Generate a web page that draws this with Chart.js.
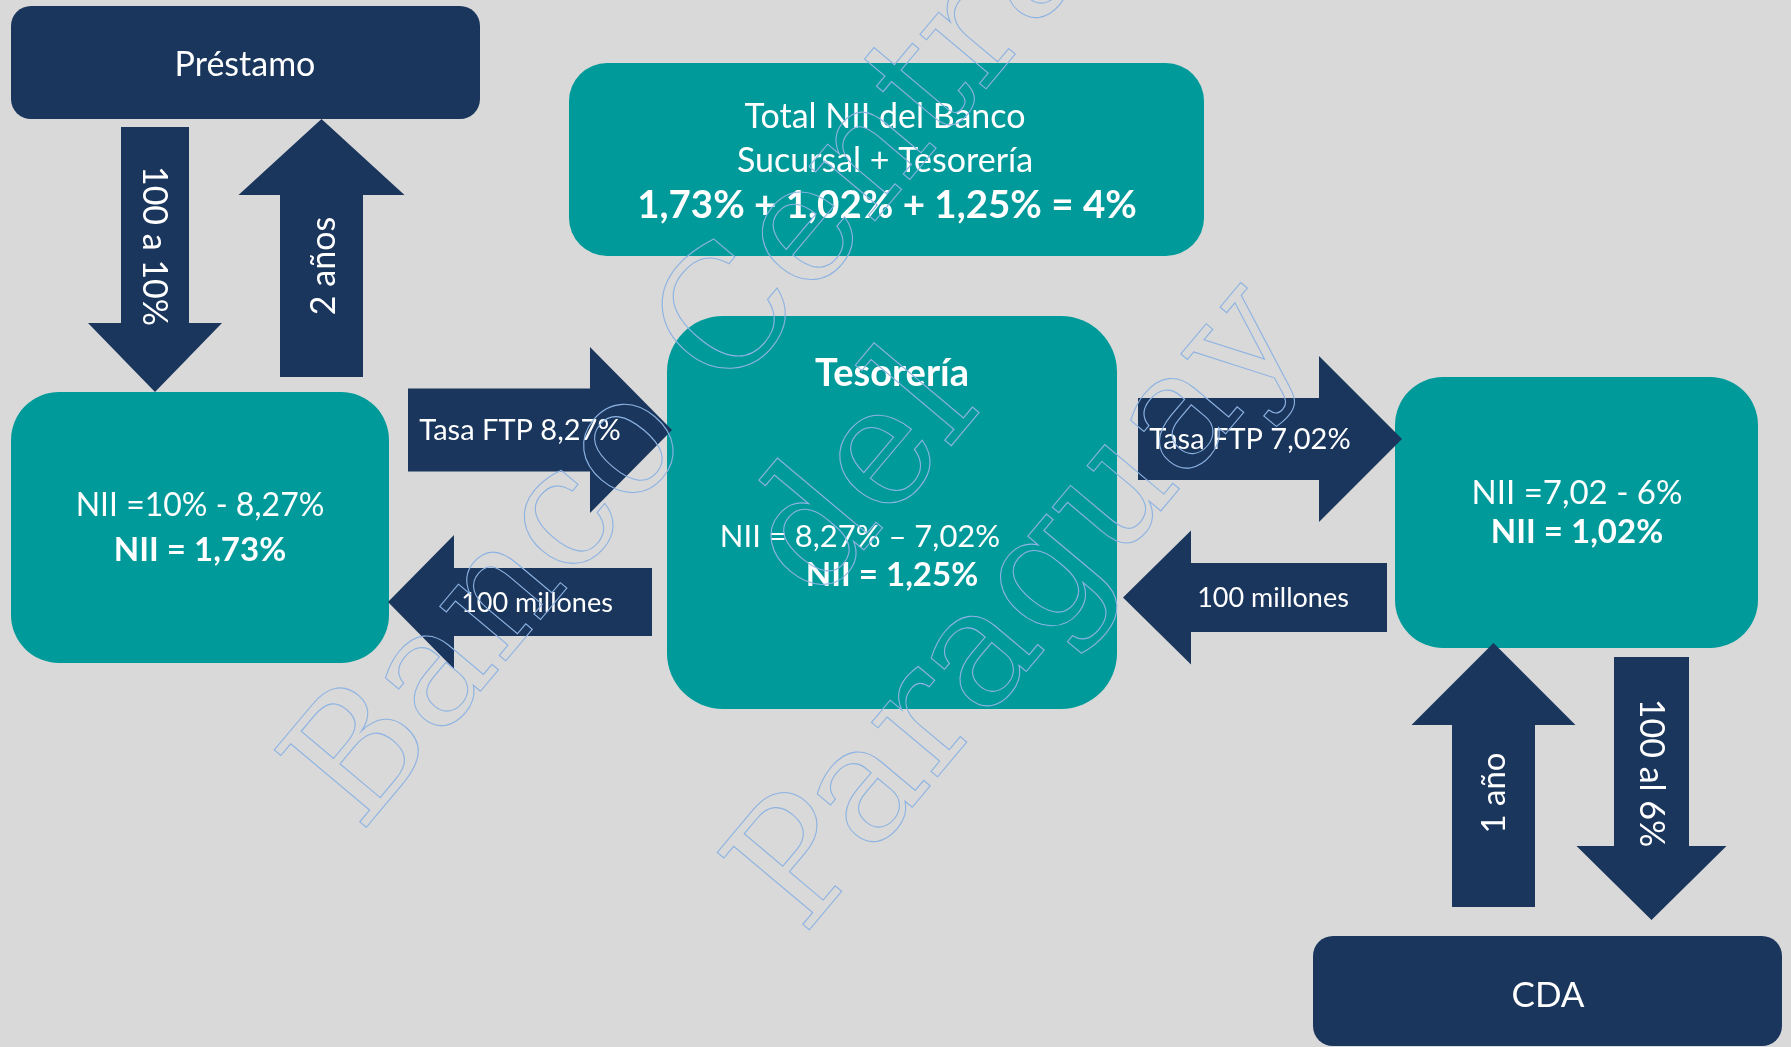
<!DOCTYPE html>
<html>
<head>
<meta charset="utf-8">
<script src="https://cdn.jsdelivr.net/npm/chart.js@4.4.0/dist/chart.umd.min.js"></script>
<style>
  html, body { margin: 0; padding: 0; background: #d9d9d9; overflow: hidden; }
  canvas { display: block; }
</style>
</head>
<body>
<canvas id="diagram" width="1791" height="1047"></canvas>
<script>
// texts of the diagram
const boxLines = [
  ['Préstamo'],
  ['Total NII del Banco', 'Sucursal + Tesorería', '1,73% + 1,02% + 1,25% = 4%'],
  ['NII =10% - 8,27%', 'NII = 1,73%'],
  ['Tesorería', 'NII = 8,27% – 7,02%', 'NII = 1,25%'],
  ['NII =7,02 - 6%', 'NII = 1,02%'],
  ['CDA']
];
const arrowLabels = ['100 a 10%', '2 años', 'Tasa FTP 8,27%', '100 millones', 'Tasa FTP 7,02%', '100 millones', '1 año', '100 al 6%'];
const watermarkLines = ['Banco Central', 'del', 'Paraguay'];

const NAVY = '#1b365d';
const TEAL = '#009a9a';
const FONT = 'Lato, "Open Sans", sans-serif';

// layout, in diagram units (x to the right, y downward)
const boxLayout = [
  { x0: 11, y0: 6, x1: 480, y1: 119, r: 20, fill: NAVY,
    text: [{ x: 245, y: 76, s: 34 }] },
  { x0: 569, y0: 63, x1: 1204, y1: 256, r: 38, fill: TEAL,
    text: [{ x: 885, y: 128, s: 34 }, { x: 885, y: 172, s: 34 }, { x: 887, y: 218, s: 38.5, b: true }] },
  { x0: 11, y0: 392, x1: 389, y1: 663, r: 48, fill: TEAL,
    text: [{ x: 200, y: 516, s: 32 }, { x: 200, y: 561, s: 33, b: true }] },
  { x0: 667, y0: 316, x1: 1117, y1: 709, r: 56, fill: TEAL,
    text: [{ x: 892, y: 386, s: 38, b: true }, { x: 860, y: 547, s: 31 }, { x: 892, y: 586, s: 33, b: true }] },
  { x0: 1395, y0: 377, x1: 1758, y1: 648, r: 48, fill: TEAL,
    text: [{ x: 1577, y: 504, s: 33 }, { x: 1577, y: 543, s: 33, b: true }] },
  { x0: 1313, y0: 936, x1: 1782, y1: 1046, r: 20, fill: NAVY,
    text: [{ x: 1548, y: 1007, s: 35 }] }
];

// arrows: axis direction, cross centre, tail / head base / tip along the axis, half widths
const arrowLayout = [
  { dir: 'v', c: 155, tail: 127, base: 323, tip: 392, sh: 34, hh: 67, lx: 155, ly: 246, s: 34, rot: 90 },
  { dir: 'v', c: 321.5, tail: 377, base: 195, tip: 119, sh: 41.5, hh: 83, lx: 323, ly: 266, s: 34, rot: -90 },
  { dir: 'h', c: 430, tail: 408, base: 590, tip: 672, sh: 41.5, hh: 83, lx: 520, ly: 440, s: 29, rot: 0 },
  { dir: 'h', c: 602, tail: 652, base: 454, tip: 388, sh: 34, hh: 67, lx: 537, ly: 612, s: 27, rot: 0 },
  { dir: 'h', c: 439, tail: 1138, base: 1319, tip: 1402, sh: 41, hh: 83, lx: 1250, ly: 449, s: 29, rot: 0 },
  { dir: 'h', c: 597.5, tail: 1387, base: 1191, tip: 1123, sh: 34.5, hh: 67, lx: 1273, ly: 607, s: 27, rot: 0 },
  { dir: 'v', c: 1493.5, tail: 907, base: 725, tip: 643, sh: 41.5, hh: 82, lx: 1493, ly: 793, s: 33, rot: -90 },
  { dir: 'v', c: 1651.5, tail: 657, base: 846, tip: 920, sh: 37.5, hh: 75, lx: 1652, ly: 773, s: 34, rot: 90 }
];

// watermark: baseline centre of each line
const watermarkLayout = [
  { x: 745, y: 376 }, { x: 900, y: 507 }, { x: 1055, y: 637 }
];

const diagramPlugin = {
  id: 'diagram',
  beforeDraw(chart) {
    const ctx = chart.ctx;
    ctx.save();
    ctx.fillStyle = '#d9d9d9';
    ctx.fillRect(0, 0, chart.width, chart.height);
    ctx.restore();
  },
  afterDatasetsDraw(chart) {
    const ctx = chart.ctx;
    const xs = chart.scales.x, ys = chart.scales.y;
    const X = v => xs.getPixelForValue(v);
    const Y = v => ys.getPixelForValue(v);
    const k = (X(1000) - X(0)) / 1000;

    ctx.save();
    // boxes
    boxLayout.forEach((b, i) => {
      ctx.fillStyle = b.fill;
      ctx.beginPath();
      ctx.roundRect(X(b.x0), Y(b.y0), X(b.x1) - X(b.x0), Y(b.y1) - Y(b.y0), b.r * k);
      ctx.fill();
      ctx.fillStyle = '#ffffff';
      ctx.textAlign = 'center';
      ctx.textBaseline = 'alphabetic';
      b.text.forEach((t, j) => {
        ctx.font = (t.b ? 'bold ' : '') + (t.s * k) + 'px ' + FONT;
        ctx.fillText(boxLines[i][j], X(t.x), Y(t.y));
      });
    });

    // arrows
    arrowLayout.forEach((a, i) => {
      const pts = [
        [a.tail, a.c - a.sh], [a.base, a.c - a.sh], [a.base, a.c - a.hh], [a.tip, a.c],
        [a.base, a.c + a.hh], [a.base, a.c + a.sh], [a.tail, a.c + a.sh]
      ];
      ctx.fillStyle = NAVY;
      ctx.beginPath();
      pts.forEach(([along, cross], n) => {
        const px = a.dir === 'h' ? X(along) : X(cross);
        const py = a.dir === 'h' ? Y(cross) : Y(along);
        if (n === 0) ctx.moveTo(px, py); else ctx.lineTo(px, py);
      });
      ctx.closePath();
      ctx.fill();

      ctx.save();
      ctx.fillStyle = '#ffffff';
      ctx.font = (a.s * k) + 'px ' + FONT;
      ctx.textAlign = 'center';
      ctx.textBaseline = 'alphabetic';
      if (a.rot) {
        ctx.translate(X(a.lx), Y(a.ly));
        ctx.rotate(a.rot * Math.PI / 180);
        ctx.fillText(arrowLabels[i], 0, a.s * k * 0.36);
      } else {
        ctx.fillText(arrowLabels[i], X(a.lx), Y(a.ly));
      }
      ctx.restore();
    });

    // watermark
    ctx.strokeStyle = '#8db3e2';
    ctx.lineWidth = 1.1;
    ctx.font = (165 * k) + 'px "DejaVu Serif", serif';
    ctx.textAlign = 'center';
    ctx.textBaseline = 'alphabetic';
    watermarkLayout.forEach((w, i) => {
      ctx.save();
      ctx.translate(X(w.x), Y(w.y));
      ctx.rotate(-50 * Math.PI / 180);
      ctx.strokeText(watermarkLines[i], 0, 0);
      ctx.restore();
    });
    ctx.restore();
  }
};

new Chart(document.getElementById('diagram'), {
  type: 'scatter',
  data: { datasets: [{ data: [], pointRadius: 0 }] },
  options: {
    responsive: false,
    animation: false,
    devicePixelRatio: 1,
    events: [],
    layout: { padding: 0 },
    plugins: { legend: { display: false }, tooltip: { enabled: false } },
    scales: {
      x: { type: 'linear', min: 0, max: 1791, display: false },
      y: { type: 'linear', min: 0, max: 1047, reverse: true, display: false }
    }
  },
  plugins: [diagramPlugin]
});
</script>
</body>
</html>
